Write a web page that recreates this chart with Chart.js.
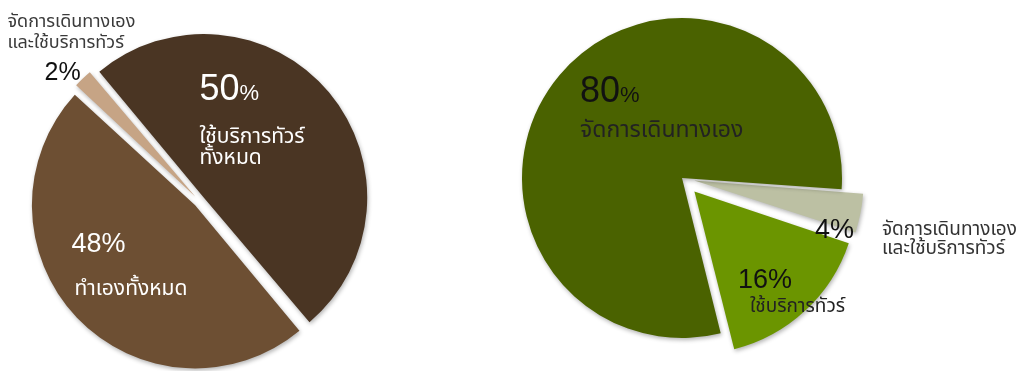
<!DOCTYPE html>
<html>
<head>
<meta charset="utf-8">
<script src="https://cdn.jsdelivr.net/npm/chart.js@4.4.0/dist/chart.umd.min.js"></script>
<style>
  html, body { margin: 0; padding: 0; background: #fff; width: 1016px; height: 371px; overflow: hidden; }
  .box { position: absolute; }
  #leftBox { left: 0; top: 0; width: 399px; height: 402px; }
  #rightBox { left: 348px; top: 0; width: 668px; height: 356px; }
</style>
</head>
<body>
<div class="box" id="leftBox"><canvas id="leftPie"></canvas></div>
<div class="box" id="rightBox"><canvas id="rightPie"></canvas></div>
<script>
// left pie
const leftLabels = [['ใช้บริการทัวร์', 'ทั้งหมด'], ['ทำเองทั้งหมด'], ['จัดการเดินทางเอง', 'และใช้บริการทัวร์']];
const leftValues = [50, 48, 2];
const leftColors = ['#4a3523', '#6d4f33', '#c6a485'];

// right pie
const rightLabels = [['จัดการเดินทางเอง', 'และใช้บริการทัวร์'], ['ใช้บริการทัวร์'], ['จัดการเดินทางเอง']];
const rightValues = [4, 16, 80];
const rightColors = ['#bcc0a3', '#6b9500', '#4a6200'];

const numFont = '"Liberation Sans", Arial, sans-serif';
const thaiFont = '"Noto Sans Thai", Tahoma, "DejaVu Sans", sans-serif';

const shadow = {
  id: 'shadow',
  beforeDatasetsDraw(chart) {
    const ctx = chart.ctx;
    ctx.save();
    ctx.shadowColor = 'rgba(0,0,0,0.3)';
    ctx.shadowBlur = 4;
    ctx.shadowOffsetX = 1;
    ctx.shadowOffsetY = 2;
  },
  afterDatasetsDraw(chart) {
    chart.ctx.restore();
  }
};

const sliceText = {
  id: 'sliceText',
  afterDatasetsDraw(chart, args, opts) {
    const ctx = chart.ctx;
    const arcs = chart.getDatasetMeta(0).data;
    const values = chart.data.datasets[0].data;
    opts.items.forEach((it, i) => {
      const cx = arcs[i].x, cy = arcs[i].y;
      ctx.save();
      ctx.fillStyle = it.color;
      ctx.textBaseline = 'alphabetic';
      const num = String(values[i]);
      ctx.font = it.numSize + 'px ' + numFont;
      ctx.fillText(num, cx + it.num[0], cy + it.num[1]);
      const w = ctx.measureText(num).width;
      ctx.font = it.pctSize + 'px ' + numFont;
      ctx.fillText('%', cx + it.num[0] + w, cy + it.num[1]);
      ctx.fillStyle = it.nameColor || it.color;
      ctx.font = it.nameSize + 'px ' + thaiFont;
      chart.data.labels[i].forEach((line, k) => {
        ctx.fillText(line, cx + it.name[0], cy + it.name[1] + k * it.lh);
      });
      ctx.restore();
    });
  }
};

function makePie(id, labels, values, colors, rotation, radius, offsets, items) {
  return new Chart(document.getElementById(id), {
    type: 'pie',
    data: {
      labels: labels,
      datasets: [{
        data: values,
        backgroundColor: colors,
        borderWidth: 0,
        offset: offsets
      }]
    },
    options: {
      responsive: true,
      maintainAspectRatio: false,
      animation: false,
      rotation: rotation,
      radius: radius,
      layout: { padding: 0 },
      plugins: {
        legend: { display: false },
        tooltip: { enabled: false },
        sliceText: { items: items }
      }
    },
    plugins: [shadow, sliceText]
  });
}

// centre (~200, 201)
makePie('leftPie', leftLabels, leftValues, leftColors, -40, 158, [22, 24, 24], [
  { color: '#fff', num: [0, -101], numSize: 36, pctSize: 22, name: [0, -58], nameSize: 21, lh: 21 },
  { color: '#fff', num: [-128, 51], numSize: 27, pctSize: 27, name: [-125, 94], nameSize: 21, lh: 20 },
  { color: '#111', nameColor: '#3a3a3a', num: [-155, -121], numSize: 25, pctSize: 25, name: [-192, -174], nameSize: 18, lh: 21 }
]);

// centre (682, 178)
makePie('rightPie', rightLabels, rightValues, rightColors, 94, 160, [50, 73, 0], [
  { color: '#111', nameColor: '#333', num: [133, 60], numSize: 27, pctSize: 27, name: [200, 57], nameSize: 19, lh: 19 },
  { color: '#111', nameColor: '#222', num: [56, 110], numSize: 27, pctSize: 27, name: [68, 134], nameSize: 19, lh: 19 },
  { color: '#111', nameColor: '#222', num: [-102, -76], numSize: 36, pctSize: 22, name: [-102, -41], nameSize: 23, lh: 22 }
]);
</script>
</body>
</html>
